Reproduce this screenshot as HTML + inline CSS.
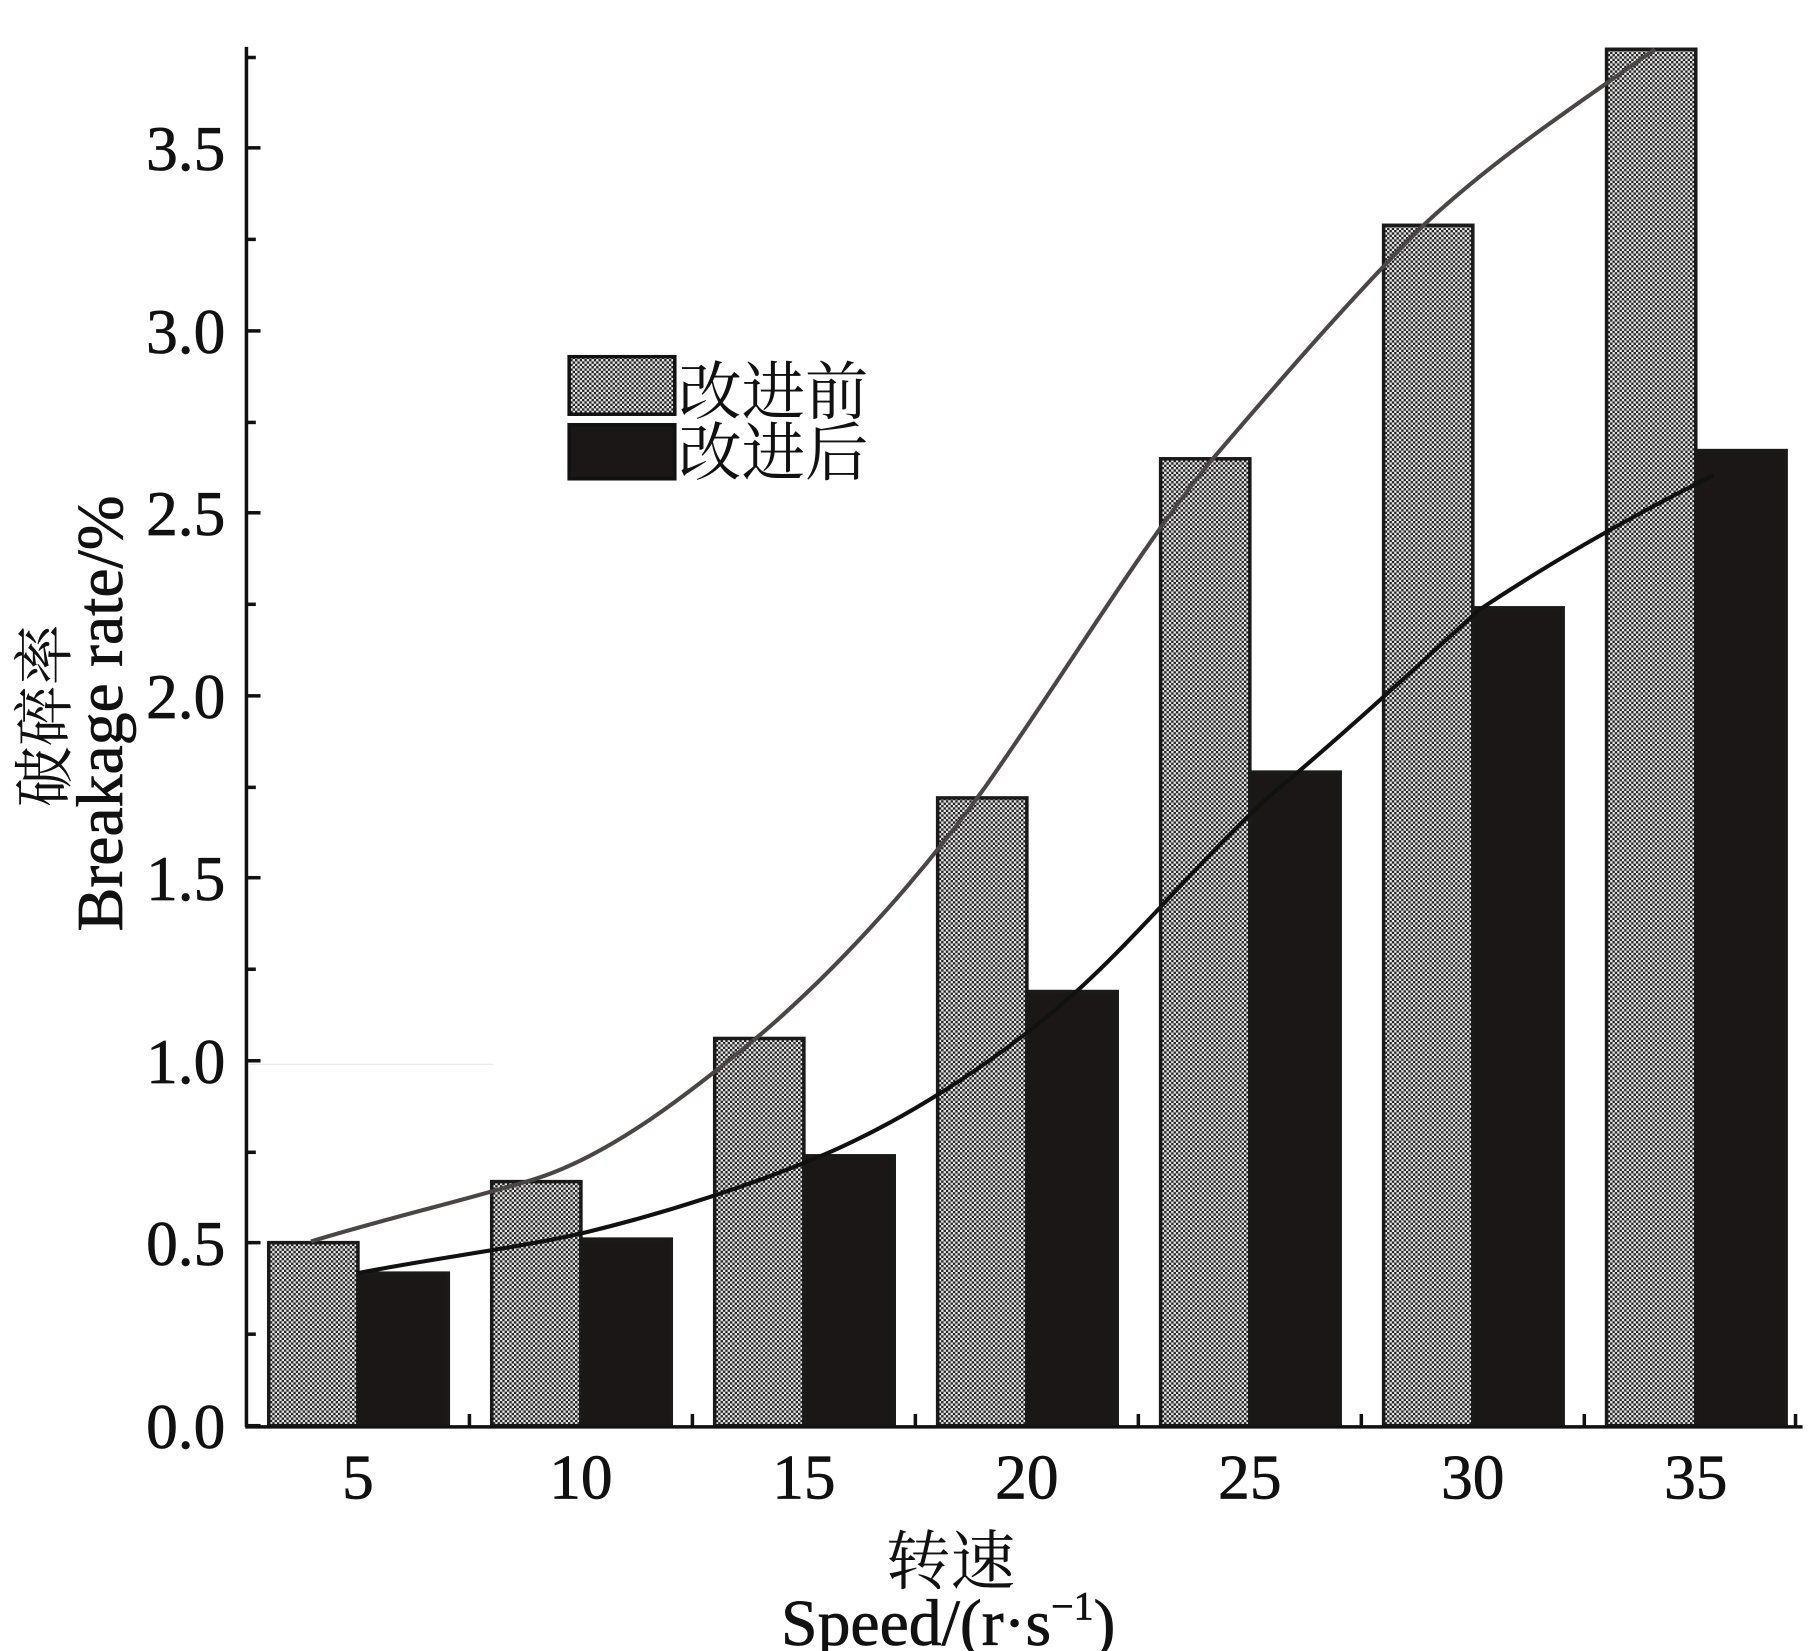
<!DOCTYPE html>
<html><head><meta charset="utf-8"><style>
html,body{margin:0;padding:0;background:#fff;}
svg{display:block;}
text{font-family:"Liberation Serif","Noto Serif CJK SC","Noto Sans CJK SC",serif;fill:#111;}
</style></head><body>
<svg width="1819" height="1651" viewBox="0 0 1550 1407" preserveAspectRatio="none" xmlns="http://www.w3.org/2000/svg">
<defs>
<pattern id="chk" width="4" height="4" patternUnits="userSpaceOnUse">
<rect width="4" height="4" fill="#e8e8e8"/>
<rect width="2" height="2" fill="#222"/>
<rect x="2" y="2" width="2" height="2" fill="#222"/>
</pattern>
</defs>
<line x1="212" y1="907" x2="420" y2="907" stroke="#e4e4e4" stroke-width="1"/>
<g stroke="#1a1a1a" stroke-width="3">
<rect x="229" y="1059" width="76" height="156" fill="url(#chk)"/>
<rect x="419" y="1007" width="76" height="208" fill="url(#chk)"/>
<rect x="609" y="885" width="76" height="330" fill="url(#chk)"/>
<rect x="799" y="680" width="76" height="535" fill="url(#chk)"/>
<rect x="989" y="391" width="76" height="824" fill="url(#chk)"/>
<rect x="1179" y="192" width="76" height="1023" fill="url(#chk)"/>
<rect x="1369" y="42" width="76" height="1173" fill="url(#chk)"/>
<rect x="305" y="1085" width="77" height="130" fill="#1a1716"/>
<rect x="495" y="1056" width="77" height="159" fill="#1a1716"/>
<rect x="685" y="985" width="77" height="230" fill="#1a1716"/>
<rect x="875" y="845" width="77" height="370" fill="#1a1716"/>
<rect x="1065" y="658" width="77" height="557" fill="#1a1716"/>
<rect x="1255" y="518" width="77" height="697" fill="#1a1716"/>
<rect x="1445" y="384" width="77" height="831" fill="#1a1716"/>
</g>
<path d="M265,1058 C330,1038 400,1022 455,1005 C520,985 590,930 650,880 C720,820 790,740 840,670 C910,570 970,470 1030,395 C1090,325 1150,255 1215,190 C1280,130 1350,85 1410,42" fill="none" stroke="#4a4646" stroke-width="3.5"/>
<path d="M305,1085 C370,1072 440,1064 500,1050 C570,1033 640,1010 700,985 C770,955 840,910 900,860 C960,810 1020,735 1080,680 C1140,630 1200,575 1260,520 C1320,480 1390,440 1460,405" fill="none" stroke="#111" stroke-width="3.5"/>
<line x1="210" y1="40" x2="210" y2="1216" stroke="#111" stroke-width="3"/>
<line x1="209" y1="1216" x2="1536" y2="1216" stroke="#111" stroke-width="3"/>
<g stroke="#111" stroke-width="3">
<line x1="210" y1="1215" x2="222" y2="1215"/><line x1="210" y1="1137" x2="218" y2="1137"/>
<line x1="210" y1="1059" x2="222" y2="1059"/><line x1="210" y1="982" x2="218" y2="982"/>
<line x1="210" y1="904" x2="222" y2="904"/><line x1="210" y1="826" x2="218" y2="826"/>
<line x1="210" y1="748" x2="222" y2="748"/><line x1="210" y1="671" x2="218" y2="671"/>
<line x1="210" y1="593" x2="222" y2="593"/><line x1="210" y1="515" x2="218" y2="515"/>
<line x1="210" y1="437" x2="222" y2="437"/><line x1="210" y1="360" x2="218" y2="360"/>
<line x1="210" y1="282" x2="222" y2="282"/><line x1="210" y1="204" x2="218" y2="204"/>
<line x1="210" y1="126" x2="222" y2="126"/><line x1="210" y1="49" x2="218" y2="49"/>
<line x1="400" y1="1215" x2="400" y2="1205"/><line x1="590" y1="1215" x2="590" y2="1205"/>
<line x1="780" y1="1215" x2="780" y2="1205"/><line x1="970" y1="1215" x2="970" y2="1205"/>
<line x1="1160" y1="1215" x2="1160" y2="1205"/><line x1="1350" y1="1215" x2="1350" y2="1205"/>
<line x1="1530" y1="1215" x2="1530" y2="1205"/>
</g>
<g font-size="54" text-anchor="end" stroke="#111" stroke-width="0.6">
<text x="192" y="1234">0.0</text><text x="192" y="1078">0.5</text>
<text x="192" y="923">1.0</text><text x="192" y="767">1.5</text>
<text x="192" y="612">2.0</text><text x="192" y="456">2.5</text>
<text x="192" y="301">3.0</text><text x="192" y="145">3.5</text>
</g>
<g font-size="54" text-anchor="middle" stroke="#111" stroke-width="0.6">
<text x="305" y="1277">5</text><text x="495" y="1277">10</text>
<text x="685" y="1277">15</text><text x="875" y="1277">20</text>
<text x="1065" y="1277">25</text><text x="1255" y="1277">30</text>
<text x="1445" y="1277">35</text>
</g>
<rect x="485" y="304" width="90" height="49" fill="url(#chk)" stroke="#111" stroke-width="3"/>
<rect x="485" y="362" width="90" height="46" fill="#1a1716" stroke="#111" stroke-width="3"/>
<text x="578" y="353" font-size="54">改进前</text>
<text x="578" y="405" font-size="54">改进后</text>
<text transform="translate(56,610) rotate(-90)" font-size="52" text-anchor="middle">破碎率</text>
<text transform="translate(104,608) rotate(-90)" font-size="56" text-anchor="middle" stroke="#111" stroke-width="0.6">Breakage rate/%</text>
<text x="810" y="1350" font-size="55" text-anchor="middle">转速</text>
<text x="808" y="1402" font-size="56" text-anchor="middle" stroke="#111" stroke-width="0.6">Speed/(r·s<tspan font-size="34" dy="-22">−1</tspan><tspan dy="22">)</tspan></text>
</svg>
</body></html>
